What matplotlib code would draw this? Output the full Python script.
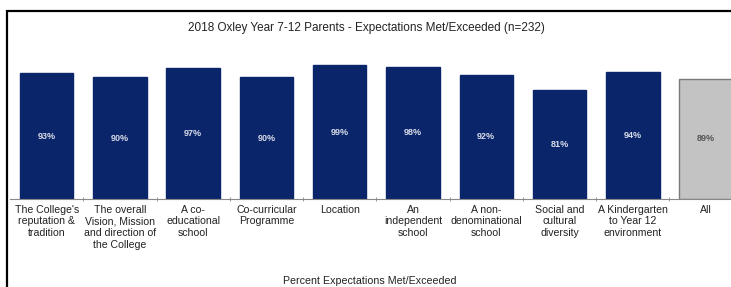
import matplotlib.pyplot as plt
from matplotlib.patches import Rectangle

plt.rcParams['font.family'] = ['Liberation Sans', 'DejaVu Sans']

# Datos
categories = [
    "The College's\nreputation &\ntradition",
    "The overall\nVision, Mission\nand direction of\nthe College",
    "A co-\neducational\nschool",
    "Co-curricular\nProgramme",
    "Location",
    "An\nindependent\nschool",
    "A non-\ndenominational\nschool",
    "Social and\ncultural\ndiversity",
    "A Kindergarten\nto Year 12\nenvironment",
    "All",
]
values = [93, 90, 97, 90, 99, 98, 92, 81, 94, 89]

W, H = 731, 287
fig = plt.figure(figsize=(W / 100, H / 100), dpi=100)
ax = fig.add_axes([10 / W, 88 / H, 1 - 10 / W, 135 / H])

colors = ['#0a2569'] * (len(values) - 1) + ['#c3c3c3']
edges = ['#0a2569'] * (len(values) - 1) + ['#7a7a7a']
x = list(range(len(values)))
bars = ax.bar(x, values, width=0.73, color=colors, edgecolor=edges, linewidth=1)

for i, (b, v) in enumerate(zip(bars, values)):
    ax.text(b.get_x() + b.get_width() / 2, v / 2, f'{v}%', ha='center', va='center',
            fontsize=6.5, fontweight='bold',
            color='#d8dcea' if i < len(values) - 1 else '#555555')

ax.set_xlim(-0.5, 9.34)
ax.set_ylim(0, 100)
for s in ['top', 'right', 'left']:
    ax.spines[s].set_visible(False)
ax.spines['bottom'].set_color('#888888')
ax.spines['bottom'].set_linewidth(0.8)
ax.set_yticks([])
ax.set_xticks(x)
ax.set_xticklabels(categories, fontsize=7.6, linespacing=1.22, color='#222222')
ax.tick_params(axis='x', which='major', length=0, pad=4)
ax.set_xticks([i + 0.5 for i in range(9)], minor=True)
ax.tick_params(axis='x', which='minor', length=3, direction='inout', color='#888888')

fig.text(366 / W, 1 - 28 / H, '2018 Oxley Year 7-12 Parents - Expectations Met/Exceeded (n=232)',
         ha='center', va='center', fontsize=8.5, color='#222222')
fig.text(370 / W, 1 - 281 / H, 'Percent Expectations Met/Exceeded',
         ha='center', va='center', fontsize=7.7, color='#222222')

# Marco
fig.add_artist(Rectangle((7 / W, -0.2), 1.5, 1.2 - 11 / H, transform=fig.transFigure,
                         fill=False, edgecolor='black', linewidth=1.6))

fig.savefig('out.png', dpi=100)
